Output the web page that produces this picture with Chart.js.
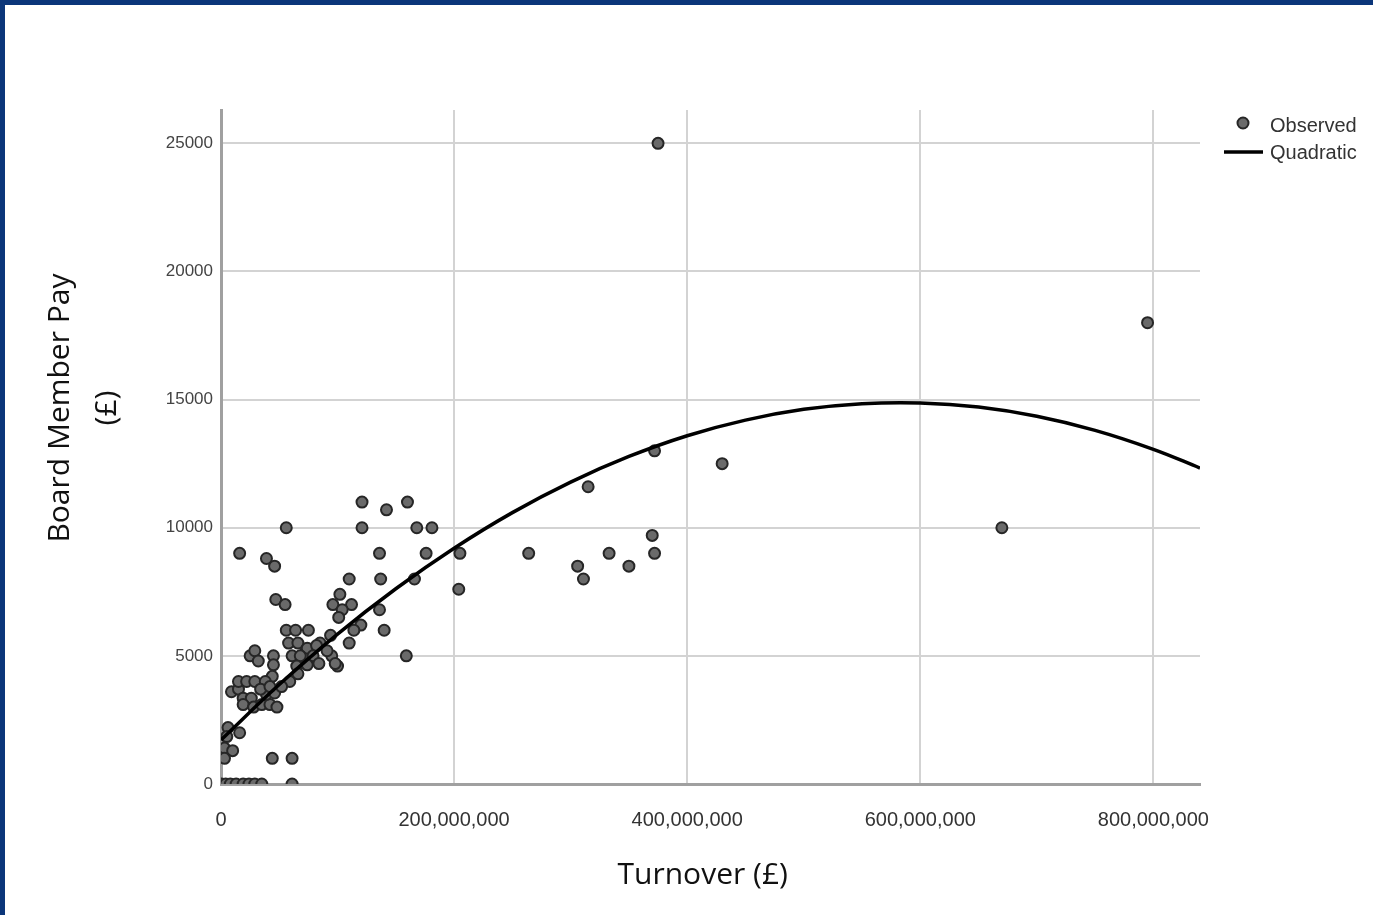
<!DOCTYPE html>
<html>
<head>
<meta charset="utf-8">
<script src="https://cdn.jsdelivr.net/npm/chart.js@4.4.1/dist/chart.umd.min.js"></script>
<style>
  html, body { margin: 0; padding: 0; background: #fff; overflow: hidden; }
  #wrap { position: relative; width: 1373px; height: 915px; }
  #wrap canvas { position: absolute; left: 0; top: 0; }
  .edge { position: absolute; background: #0b367a; }
  #edgeTop { left: 0; top: 0; width: 1373px; height: 5px; }
  #edgeLeft { left: 0; top: 0; width: 5px; height: 915px; }
</style>
</head>
<body>
<div id="wrap">
  <canvas id="myChart" width="1373" height="915"></canvas>
  <div class="edge" id="edgeTop"></div>
  <div class="edge" id="edgeLeft"></div>
</div>
<script>
// turnover in millions of pounds, pay in pounds
var observedTurnover = [
  375, 795, 430, 670, 372, 315, 370, 372, 333, 350, 306, 311, 264, 205, 204,
  121, 142, 160, 56, 121, 168, 181, 16, 39, 46, 136, 176, 110, 137, 166,
  47, 55, 102, 96, 112, 104, 136, 101, 120, 114, 140, 110, 95, 100, 159,
  94, 85, 79, 72,
  56, 64, 75, 58, 66, 74, 82, 91, 61, 68, 79, 65, 74, 84, 98, 66, 59,
  25, 29, 32, 45, 45, 44, 9, 15, 15, 22, 29, 38, 19, 26, 19, 28, 35, 42, 48,
  39, 46, 34, 42, 52, 6, 5, 16, 3, 10, 3, 44, 61,
  0.5, 4, 8, 13, 19, 24, 29, 35, 61
];
var observedPay = [
  25000, 18000, 12500, 10000, 13000, 11600, 9700, 9000, 9000, 8500, 8500, 8000, 9000, 9000, 7600,
  11000, 10700, 11000, 10000, 10000, 10000, 10000, 9000, 8800, 8500, 9000, 9000, 8000, 8000, 8000,
  7200, 7000, 7400, 7000, 7000, 6800, 6800, 6500, 6200, 6000, 6000, 5500, 5000, 4600, 5000,
  5800, 5500, 4850, 5100,
  6000, 6000, 6000, 5500, 5500, 5300, 5400, 5200, 5000, 5000, 5000, 4600, 4650, 4700, 4700, 4300, 4000,
  5000, 5200, 4800, 5000, 4650, 4200, 3600, 3700, 4000, 4000, 4000, 4000, 3350, 3350, 3100, 3000, 3100, 3100, 3000,
  3500, 3550, 3700, 3800, 3800, 2200, 1850, 2000, 1400, 1300, 1000, 1000, 1000,
  0, 0, 0, 0, 0, 0, 0, 0, 0
];

// quadratic fit curve, read at steps along the turnover axis
var fitTurnover = [0, 50, 100, 150, 200, 250, 300, 350, 400, 450, 500, 550, 600, 650, 700, 750, 800, 840];
var fitPay = [1720, 3880, 5850, 7620, 9200, 10590, 11780, 12780, 13590, 14200, 14620, 14840, 14870, 14710, 14350, 13800, 13060, 12330];

var xTickValues = [0, 200000000, 400000000, 600000000, 800000000];
var yTickValues = [0, 5000, 10000, 15000, 20000, 25000];

var seriesNames = ["Observed", "Quadratic"];

function toPoints(xs, ys) {
  return xs.map(function (x, i) {
    return { x: x * 1000000, y: ys[i] };
  });
}

var sideLegend = {
  id: "sideLegend",
  afterDraw: function (chart) {
    var ctx = chart.ctx;
    var obs = chart.data.datasets[1];
    var fit = chart.data.datasets[0];
    ctx.save();
    ctx.font = '20px "Liberation Sans", Arial, sans-serif';
    ctx.textBaseline = "middle";
    ctx.textAlign = "left";

    ctx.beginPath();
    ctx.arc(1243, 123, 5.5, 0, Math.PI * 2);
    ctx.fillStyle = obs.backgroundColor;
    ctx.fill();
    ctx.lineWidth = obs.borderWidth;
    ctx.strokeStyle = obs.borderColor;
    ctx.stroke();

    ctx.beginPath();
    ctx.moveTo(1224, 152);
    ctx.lineTo(1263, 152);
    ctx.lineWidth = fit.borderWidth;
    ctx.strokeStyle = fit.borderColor;
    ctx.stroke();

    ctx.fillStyle = "#333";
    ctx.fillText(obs.label, 1270, 126);
    ctx.fillText(fit.label, 1270, 153);
    ctx.restore();
  }
};

var ctx = document.getElementById("myChart").getContext("2d");
var myChart = new Chart(ctx, {
  type: "scatter",
  data: {
    datasets: [
      {
        label: seriesNames[1],
        data: toPoints(fitTurnover, fitPay),
        showLine: true,
        borderColor: "#000",
        borderWidth: 3.5,
        pointRadius: 0,
        tension: 0.4,
        fill: false,
        order: 0
      },
      {
        label: seriesNames[0],
        data: toPoints(observedTurnover, observedPay),
        backgroundColor: "#6a6a6a",
        borderColor: "#262626",
        borderWidth: 2,
        pointRadius: 5.5,
        order: 1
      }
    ]
  },
  options: {
    responsive: false,
    animation: false,
    devicePixelRatio: 1,
    layout: {
      padding: { top: 110, right: 173, bottom: 0, left: 0 }
    },
    plugins: {
      legend: { display: false },
      tooltip: { enabled: false }
    },
    scales: {
      x: {
        type: "linear",
        min: 0,
        max: 840000000,
        afterFit: function (scale) { scale.height = 131; },
        afterBuildTicks: function (scale) {
          scale.ticks = xTickValues.map(function (v) { return { value: v }; });
        },
        grid: { color: "#d3d3d3", lineWidth: 2, drawTicks: false },
        border: { color: "#a0a0a0", width: 3 },
        ticks: {
          padding: 24,
          maxRotation: 0,
          color: "#333",
          font: { family: "'Liberation Sans', Arial, sans-serif", size: 20 },
          callback: function (v) { return v.toLocaleString("en-US"); }
        },
        title: {
          display: true,
          text: "Turnover (£)  ",
          color: "#111",
          font: { family: "'Open Sans', sans-serif", size: 30 },
          padding: { top: 0, bottom: 22 }
        }
      },
      y: {
        type: "linear",
        min: 0,
        max: 26300,
        afterFit: function (scale) { scale.width = 221; },
        afterBuildTicks: function (scale) {
          scale.ticks = yTickValues.map(function (v) { return { value: v }; });
        },
        grid: { color: "#d3d3d3", lineWidth: 2, drawTicks: false },
        border: { color: "#a0a0a0", width: 3 },
        ticks: {
          padding: 8,
          color: "#444",
          font: { family: "'Liberation Sans', Arial, sans-serif", size: 17 },
          callback: function (v) { return String(v); }
        },
        title: {
          display: true,
          text: ["          Board Member Pay", "          (£)"],
          color: "#111",
          font: { family: "'Open Sans', sans-serif", size: 30, lineHeight: 1.567 },
          padding: { top: 37, bottom: 0 }
        }
      }
    }
  },
  plugins: [sideLegend]
});
</script>
</body>
</html>
